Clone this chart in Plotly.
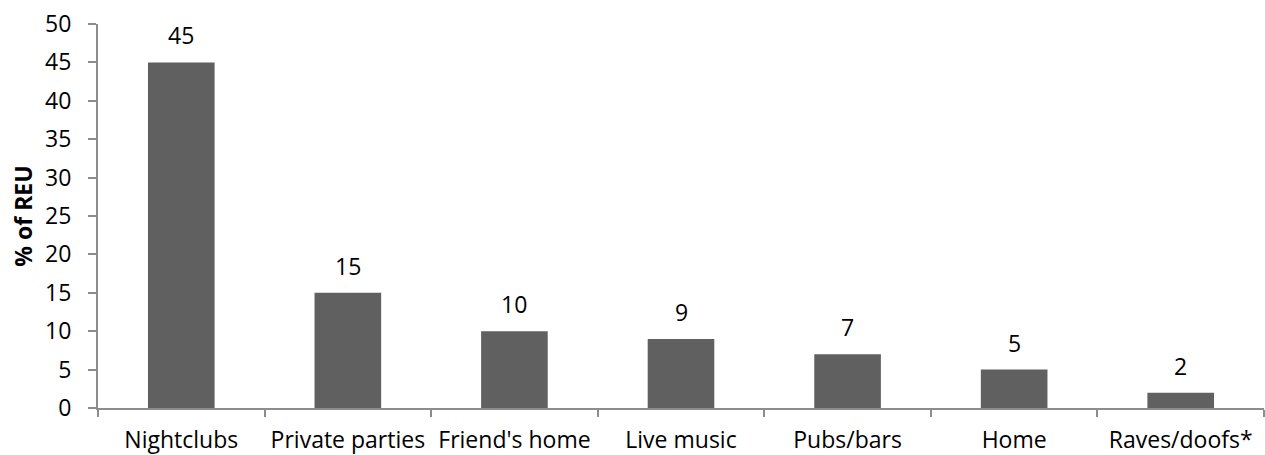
import plotly.graph_objects as go

# Venues where recreational ecstasy users (REU) last used
venues = ["Nightclubs", "Private parties", "Friend's home", "Live music",
          "Pubs/bars", "Home", "Raves/doofs*"]
percent_reu = [45, 15, 10, 9, 7, 5, 2]
y_ticks = [0, 5, 10, 15, 20, 25, 30, 35, 40, 45, 50]

FONT = "Open Sans, Noto Sans, sans-serif"
AXIS_GREY = "#8c8c8c"
BAR_GREY = "#606060"

fig = go.Figure(
    go.Bar(
        x=venues,
        y=percent_reu,
        marker=dict(color=BAR_GREY, line=dict(width=0)),
        hoverinfo="x+y",
    )
)

# Value labels above each bar
for v, p in zip(venues, percent_reu):
    fig.add_annotation(
        x=v, y=p, text=str(p), showarrow=False,
        yanchor="bottom", yshift=9,
        font=dict(family=FONT, size=23, color="#000000"),
    )

fig.update_layout(
    width=1265, height=455,
    margin=dict(l=98, r=1, t=24, b=47),
    paper_bgcolor="white", plot_bgcolor="white",
    bargap=0.6,
    showlegend=False,
    font=dict(family=FONT, size=23, color="#000000"),
)

fig.update_xaxes(
    type="category", automargin=False,
    showline=True, linecolor=AXIS_GREY, linewidth=2,
    ticks="outside", tickson="boundaries", ticklen=7,
    tickcolor=AXIS_GREY, tickwidth=2,
    ticklabelstandoff=10,
    showgrid=False, zeroline=False,
    tickfont=dict(family=FONT, size=23, color="#000000"),
)

fig.update_yaxes(
    range=[0, 50], tickmode="array", tickvals=y_ticks,
    ticktext=[str(t) for t in y_ticks],
    showline=True, linecolor=AXIS_GREY, linewidth=2,
    ticks="outside", ticklen=8, tickcolor=AXIS_GREY, tickwidth=2,
    ticklabelstandoff=12,
    showgrid=False, zeroline=False,
    tickfont=dict(family=FONT, size=23, color="#000000"),
    title=dict(text="<b>% of REU</b>", standoff=6,
               font=dict(family=FONT, size=23, color="#000000")),
)

fig.write_html("out.html")
